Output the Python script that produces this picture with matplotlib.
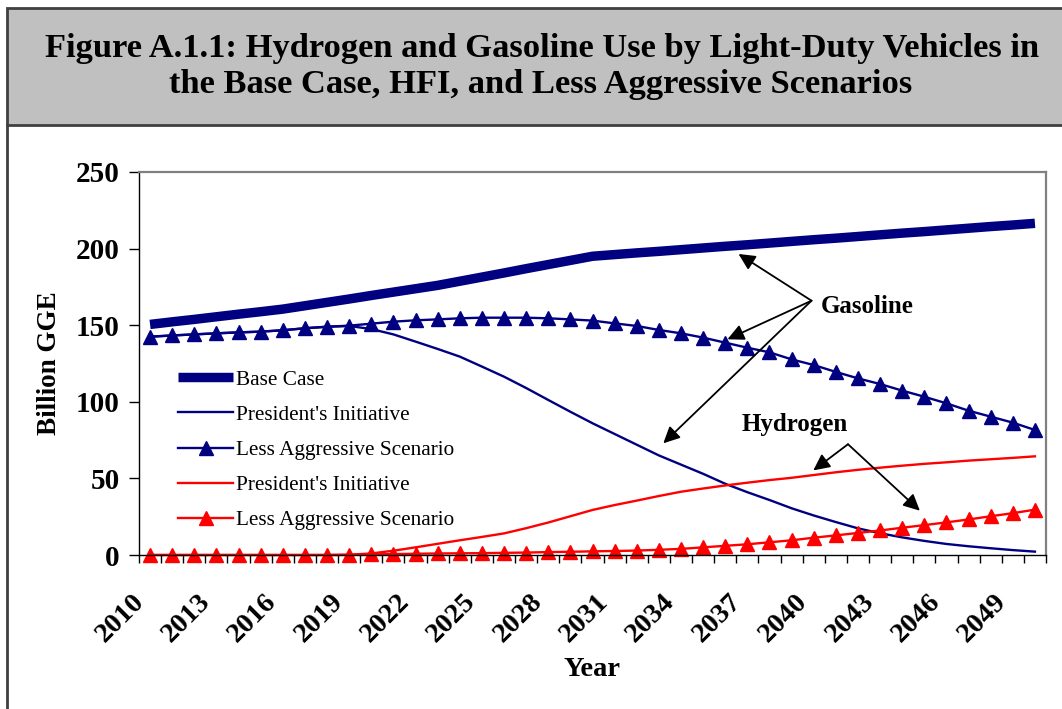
import numpy as np
import matplotlib.pyplot as plt
from matplotlib.patches import Rectangle
from matplotlib.lines import Line2D

# ---------------------------------------------------------------------------
# Data (billion gallons of gasoline equivalent)
# ---------------------------------------------------------------------------
years = list(range(2010, 2051))

base_case = [150.5, 152.2, 153.8, 155.5, 157.2, 158.8, 160.5, 162.7, 164.9, 167.1,
             169.4, 171.6, 173.8, 176.0, 178.7, 181.4, 184.1, 186.9, 189.6, 192.3,
             195.0, 196.1, 197.2, 198.2, 199.3, 200.4, 201.5, 202.5, 203.6, 204.7,
             205.8, 206.8, 207.9, 209.0, 210.1, 211.1, 212.2, 213.3, 214.4, 215.4,
             216.5]

pi_gasoline = [142.5, 143.3, 144.0, 144.7, 145.3, 145.8, 146.7, 148.0, 149.0, 149.5,
               147.5, 144.0, 139.3, 134.5, 129.5, 123.0, 116.4, 109.0, 101.2, 93.5,
               86.0, 79.0, 72.0, 65.0, 59.0, 53.0, 46.5, 41.0, 35.9, 30.5,
               25.8, 21.5, 17.4, 14.2, 11.5, 9.2, 7.2, 5.7, 4.4, 3.2,
               2.2]

la_gasoline = [142.5, 143.3, 144.0, 144.7, 145.3, 145.8, 146.7, 148.0, 149.0, 149.7,
               151.0, 152.3, 153.2, 153.8, 154.5, 154.9, 154.9, 154.9, 154.5, 153.8,
               153.0, 151.2, 149.5, 146.9, 144.7, 141.9, 138.6, 135.3, 132.3, 127.7,
               124.0, 119.5, 115.3, 111.6, 107.3, 103.3, 99.0, 94.2, 90.3, 86.4,
               81.6]

pi_hydrogen = [0.0, 0.0, 0.0, 0.0, 0.0, 0.0, 0.0, 0.0, 0.0, 0.2,
               1.0, 2.8, 5.0, 7.3, 9.6, 11.8, 14.1, 17.5, 21.2, 25.3,
               29.4, 32.6, 35.5, 38.5, 41.3, 43.4, 45.4, 47.2, 48.9, 50.4,
               52.2, 54.0, 55.6, 57.0, 58.3, 59.5, 60.5, 61.6, 62.5, 63.4,
               64.4]

la_hydrogen = [0.0, 0.0, 0.0, 0.0, 0.0, 0.0, 0.0, 0.0, 0.0, 0.1,
               0.4, 0.6, 0.8, 1.0, 1.1, 1.2, 1.4, 1.6, 1.9, 2.1,
               2.4, 2.6, 2.9, 3.4, 4.0, 5.0, 6.0, 7.0, 8.3, 9.6,
               11.3, 12.8, 14.4, 16.0, 17.8, 19.5, 21.3, 23.2, 25.3, 27.3,
               29.6]

series_labels = ["Base Case", "President's Initiative", "Less Aggressive Scenario",
                 "President's Initiative", "Less Aggressive Scenario"]

tick_years = years[::3]
y_ticks = [0, 50, 100, 150, 200, 250]

title_lines = ["Figure A.1.1: Hydrogen and Gasoline Use by Light-Duty Vehicles in",
               "the Base Case, HFI, and Less Aggressive Scenarios"]

NAVY = "#000080"
RED = "#FF0000"
SERIF = ["Liberation Serif", "DejaVu Serif"]

W, H = 1062, 709


def fx(px):
    return px / W


def fy(py):
    return 1 - py / H


# ---------------------------------------------------------------------------
# Figure, frame and title box
# ---------------------------------------------------------------------------
fig = plt.figure(figsize=(W / 100, H / 100), dpi=100)
fig.patches.append(Rectangle((fx(7), fy(125)), 1.0, 117 / H, transform=fig.transFigure,
                             facecolor="#C0C0C0", edgecolor="#404040", lw=2))
fig.lines.append(Line2D([fx(7), fx(7)], [0, fy(125)], transform=fig.transFigure,
                        color="#404040", lw=2))
fig.text(fx(542), fy(48), title_lines[0], ha="center", va="center",
         fontsize=24.8, fontweight="bold", family=SERIF)
fig.text(fx(541), fy(84), title_lines[1], ha="center", va="center",
         fontsize=24.8, fontweight="bold", family=SERIF)

ax = fig.add_axes([fx(139), fy(555), 907 / W, 383 / H])
x = np.arange(len(years))

ax.plot(x, base_case, color=NAVY, lw=6.8, solid_capstyle="butt", label=series_labels[0])
ax.plot(x, pi_gasoline, color=NAVY, lw=1.7, label=series_labels[1])
ax.plot(x, la_gasoline, color=NAVY, lw=1.7, marker="^", ms=9.5, label=series_labels[2],
        clip_on=False)
ax.plot(x, pi_hydrogen, color=RED, lw=1.7, label=series_labels[3])
ax.plot(x, la_hydrogen, color=RED, lw=1.7, marker="^", ms=9.5, label=series_labels[4],
        clip_on=False)

ax.set_xlim(-0.5, len(years) - 0.5)
ax.set_ylim(0, 250)

# category axis: tick marks between categories, labels every third year
ax.set_xticks(np.arange(-0.5, len(years), 1.0))
ax.tick_params(axis="x", which="major", direction="out", length=6, width=1,
               labelbottom=False)
ax.set_xticks([years.index(t) - 0.45 for t in tick_years], minor=True)
ax.set_xticklabels([str(t) for t in tick_years], minor=True, rotation=45,
                   ha="right", va="center", rotation_mode="anchor",
                   fontsize=20.5, fontweight="bold", family=SERIF)
ax.tick_params(axis="x", which="minor", length=0, pad=31)

ax.set_yticks(y_ticks)
ax.set_yticklabels([str(v) for v in y_ticks], fontsize=21, fontweight="bold", family=SERIF)
ax.tick_params(axis="y", direction="out", length=7, width=1, pad=7)

for side in ("top", "right"):
    ax.spines[side].set_color("#808080")
    ax.spines[side].set_linewidth(1.6)
for side in ("left", "bottom"):
    ax.spines[side].set_color("black")
    ax.spines[side].set_linewidth(1.0)

fig.text(fx(49), fy(363), "Billion GGE", rotation=90, ha="center", va="center",
         fontsize=19.5, fontweight="bold", family=SERIF)
fig.text(fx(592), fy(670), "Year", ha="center", va="center",
         fontsize=20.5, fontweight="bold", family=SERIF)

ax.legend(loc="center left", bbox_to_anchor=(0.043, 0.274), frameon=False,
          prop={"family": SERIF, "size": 15.3}, handlelength=2.6,
          handletextpad=0.15, labelspacing=0.72, borderpad=0, borderaxespad=0)

# ---------------------------------------------------------------------------
# Call-out arrows
# ---------------------------------------------------------------------------
arrow = dict(arrowstyle="-|>,head_length=0.45,head_width=0.22", color="black",
             lw=1.3, shrinkA=0, shrinkB=0, mutation_scale=22)

gas_vertex = (29.9, 166.0)
for tip in [(26.6, 196.5), (26.1, 140.8), (23.2, 72.9)]:
    ax.annotate("", xy=tip, xytext=gas_vertex, arrowprops=arrow)
ax.text(30.3, 162.1, "Gasoline", ha="left", va="center", fontsize=18,
        fontweight="bold", family=SERIF)

h2_vertex = (31.55, 72.3)
for tip in [(29.98, 55.2), (34.8, 28.9)]:
    ax.annotate("", xy=tip, xytext=h2_vertex, arrowprops=arrow)
ax.text(29.15, 84.9, "Hydrogen", ha="center", va="center", fontsize=18,
        fontweight="bold", family=SERIF)

fig.savefig("out.png", dpi=100)
